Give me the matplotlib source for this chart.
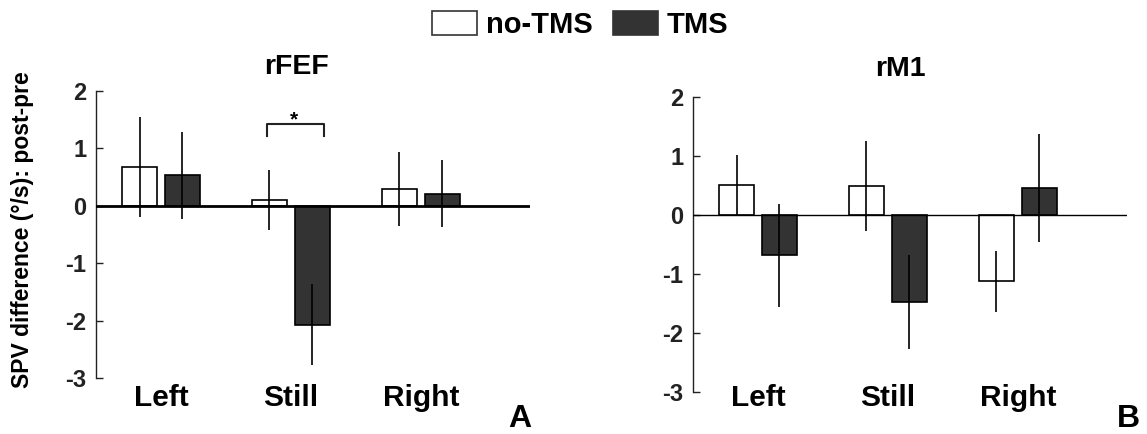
import matplotlib
matplotlib.use("Agg")
import matplotlib.pyplot as plt
import matplotlib.transforms as mtransforms
from matplotlib.patches import Patch
import numpy as np

plt.rcParams['font.family'] = ['Liberation Sans', 'DejaVu Sans']
plt.rcParams['font.weight'] = 'bold'

categories = ["Left", "Still", "Right"]
series = ["no-TMS", "TMS"]

# Panel A: rFEF
rfef_notms = [0.67, 0.10, 0.29]
rfef_notms_err = [0.87, 0.52, 0.64]
rfef_tms = [0.53, -2.07, 0.21]
rfef_tms_err = [0.76, 0.70, 0.58]

# Panel B: rM1
rm1_notms = [0.50, 0.49, -1.13]
rm1_notms_err = [0.51, 0.76, 0.52]
rm1_tms = [-0.69, -1.48, 0.45]
rm1_tms_err = [0.87, 0.79, 0.91]

yticks = [-3, -2, -1, 0, 1, 2]

W, H = 1147, 434
fig = plt.figure(figsize=(W / 100, H / 100), dpi=100)

def px_axes(left, right, top, bottom):
    return [left / W, 1 - bottom / H, (right - left) / W, (bottom - top) / H]

axA = fig.add_axes(px_axes(96, 530, 91, 378))
axB = fig.add_axes(px_axes(693, 1127, 96.7, 391.7))

x = np.arange(1, len(categories) + 1)
bw = 0.27
off = 0.165
dark = '#333333'

def draw(ax, v1, e1, v2, e2, zero_lw):
    ax.bar(x - off, v1, bw, color='white', edgecolor='black', linewidth=1.2, zorder=2)
    ax.bar(x + off, v2, bw, color=dark, edgecolor='black', linewidth=1.2, zorder=2)
    ax.errorbar(x - off, v1, yerr=e1, fmt='none', ecolor='black', elinewidth=1.2, capsize=0, zorder=3)
    ax.errorbar(x + off, v2, yerr=e2, fmt='none', ecolor='black', elinewidth=1.2, capsize=0, zorder=3)
    ax.axhline(0, color='black', linewidth=zero_lw, zorder=4)
    ax.set_xlim(0.5, 3.84)
    ax.set_ylim(-3, 2)
    for s in ['top', 'right', 'bottom']:
        ax.spines[s].set_visible(False)
    ax.spines['left'].set_color('#222222')
    ax.spines['left'].set_linewidth(1.0)
    ax.set_yticks(yticks)
    ax.set_yticklabels([str(t) for t in yticks])
    ax.tick_params(axis='y', direction='in', length=5, width=1, pad=7, labelsize=17, colors='#222222')
    for lab in ax.get_yticklabels():
        lab.set_fontweight('bold')
    ax.set_xticks([])
    trans = mtransforms.blended_transform_factory(ax.transData, fig.transFigure)
    for xi, c in zip(x, categories):
        ax.text(xi, 1 - 398 / H, c, transform=trans, ha='center', va='center',
                fontsize=21.5, fontweight='bold')

draw(axA, rfef_notms, rfef_notms_err, rfef_tms, rfef_tms_err, 2.0)
draw(axB, rm1_notms, rm1_notms_err, rm1_tms, rm1_tms_err, 1.0)

# significance bracket in panel A
axA.plot([1.815, 1.815, 2.254, 2.254], [1.22, 1.43, 1.43, 1.22], color='#222222', linewidth=1.5, zorder=5)
axA.text(2.02, 1.50, '*', ha='center', va='center', fontsize=15, fontweight='bold')

axA.set_ylabel('SPV difference (°/s): post-pre', fontsize=16.5, fontweight='bold')
axA.yaxis.set_label_coords(-(96 - 34) / 434, (378 - 229.5) / (378 - 91))

fig.text(297 / W, 1 - 67 / H, 'rFEF', ha='center', va='center', fontsize=20.5, fontweight='bold')
fig.text(900 / W, 1 - 69 / H, 'rM1', ha='center', va='center', fontsize=20.5, fontweight='bold')

fig.text(520 / W, 1 - 427 / H, 'A', ha='center', va='baseline', fontsize=23, fontweight='bold')
fig.text(1128 / W, 1 - 427 / H, 'B', ha='center', va='baseline', fontsize=23, fontweight='bold')

handles = [Patch(facecolor='white', edgecolor='#333333', linewidth=1.2),
           Patch(facecolor=dark, edgecolor='#333333', linewidth=1.2)]
fig.legend(handles, series, loc='center', bbox_to_anchor=(580 / W, 1 - 25 / H), ncol=2,
           frameon=False, prop={'size': 21, 'weight': 'bold'}, handlelength=1.55,
           handleheight=0.85, handletextpad=0.3, columnspacing=0.7)

fig.savefig('out.png', dpi=100)
